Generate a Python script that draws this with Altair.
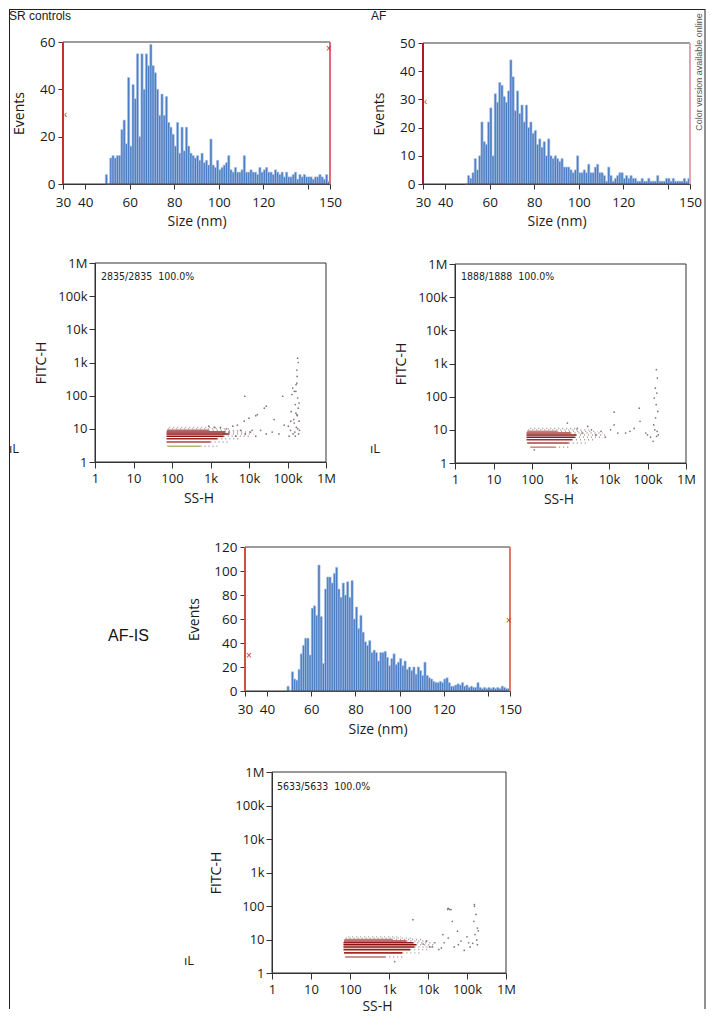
import altair as alt
import pandas as pd

# ---------------- data ----------------
BIN_START = list(range(49, 150))  # 1-nm size bins (start of bin)

H1_COUNTS = [4, 0, 11, 12, 11, 12, 12, 23, 27, 17,
             45, 16, 42, 36, 55, 20, 55, 40, 55, 50,
             59, 50, 47, 40, 29, 38, 29, 37, 26, 24,
             21, 16, 26, 13, 24, 14, 24, 16, 13, 12,
             11, 12, 10, 13, 9, 10, 8, 19, 8, 7,
             10, 6, 7, 8, 9, 12, 6, 5, 7, 5,
             5, 6, 12, 5, 5, 6, 5, 5, 4, 7,
             5, 6, 7, 5, 5, 4, 6, 5, 4, 5,
             3, 5, 3, 3, 4, 5, 2, 4, 3, 4,
             3, 3, 3, 2, 3, 3, 4, 3, 2, 4, 1]
H2_COUNTS = [0, 3, 2, 4, 9, 5, 10, 22, 15, 14,
             22, 27, 10, 32, 29, 36, 35, 31, 29, 33,
             44, 38, 26, 33, 25, 28, 22, 28, 20, 22,
             18, 19, 14, 16, 13, 15, 10, 16, 10, 9,
             10, 9, 8, 9, 6, 6, 6, 5, 4, 5,
             10, 4, 4, 5, 4, 7, 4, 4, 6, 7,
             4, 4, 3, 1, 6, 3, 1, 2, 3, 4,
             4, 2, 3, 2, 3, 2, 2, 1, 1, 2,
             1, 1, 2, 1, 1, 1, 3, 1, 1, 1,
             2, 2, 1, 2, 1, 1, 1, 1, 2, 1, 2]
H3_COUNTS = [4, 0, 16, 10, 9, 18, 31, 38, 44, 44,
             30, 69, 71, 63, 105, 62, 23, 85, 95, 95,
             90, 98, 103, 85, 78, 90, 80, 91, 78, 92,
             60, 70, 52, 63, 49, 41, 38, 42, 32, 34,
             32, 25, 32, 32, 33, 28, 21, 27, 31, 22,
             24, 27, 21, 25, 18, 20, 17, 20, 14, 20,
             17, 13, 24, 13, 11, 10, 8, 7, 7, 8,
             7, 10, 11, 7, 4, 4, 5, 6, 5, 7,
             4, 5, 3, 4, 3, 3, 7, 3, 2, 3,
             2, 3, 2, 3, 2, 3, 2, 4, 3, 2, 2]

HIST_TICKS_X = [30, 40, 60, 80, 100, 120, 140, 150]
H1_TICKS_Y = [0, 20, 40, 60]
H2_TICKS_Y = [0, 10, 20, 30, 40, 50]
H3_TICKS_Y = [0, 20, 40, 60, 80, 100, 120]
LOG_TICKS = [1, 10, 100, 1000, 10000, 100000, 1000000]

GATE_X = [30, 150]
H1_MARK_X = [30, 150]
H1_MARK_Y = [29, 57]
H1_MARK_T = ["‹", "×"]
H2_MARK_X = [30]
H2_MARK_Y = [29]
H2_MARK_T = ["‹"]
H3_MARK_X = [30, 150]
H3_MARK_Y = [29, 58]
H3_MARK_T = ["×", "×"]

# FITC-H levels of the dense band (integer channel values), SS-H extents
S1_LEVEL = [3, 4, 5, 6, 7, 8, 9, 10, 11]
S1_START = [75, 72, 72, 72, 72, 72, 74, 78, 85]
S1_DENSE_END = [550, 1000, 1500, 2200, 3000, 2400, 900, 78, 85]
S1_SPARSE_END = [1500, 3200, 6000, 10000, 13000, 12000, 7000, 3500, 1500]
S1_COLOR = ["#b9b072", "#ad4444", "#9c2424", "#8c1414", "#861010",
            "#9a2020", "#b46a6a", "#cfa5a5", "#e2caca"]

S2_LEVEL = [3, 4, 5, 6, 7, 8, 9, 10, 11]
S2_START = [90, 75, 72, 72, 72, 72, 75, 80, 90]
S2_DENSE_END = [400, 900, 1100, 1300, 1400, 1000, 450, 80, 90]
S2_SPARSE_END = [900, 2500, 4500, 6000, 8000, 7000, 5000, 3000, 1500]
S2_COLOR = ["#d48a8a", "#a84444", "#a03030", "#8c1818", "#8a1414",
            "#a83a3a", "#c48080", "#d8b0b0", "#e6cccc"]

S3_LEVEL = [3, 4, 5, 6, 7, 8, 9, 10, 11, 12]
S3_START = [75, 70, 68, 68, 68, 68, 70, 72, 78, 90]
S3_DENSE_END = [800, 2200, 3500, 4500, 5000, 4200, 2800, 1200, 78, 90]
S3_SPARSE_END = [2500, 6000, 10000, 14000, 16000, 14000, 10000, 7000, 4000, 2000]
S3_COLOR = ["#b87070", "#a02a2a", "#962020", "#8a1212", "#8a1010",
            "#951c1c", "#a83c3c", "#c47a7a", "#d6a8a8", "#e6caca"]

# sparse events (SS-H, FITC-H)
S1_PTS_SS = [7800, 75000, 25000, 16500, 10000, 7500, 5000, 45000, 82000, 122000,
             137000, 165000, 183000, 160000, 190000, 125000, 175000, 145000, 200000, 105000,
             185000, 155000, 205000, 120000, 175000, 183000, 190000, 175000, 167000, 150000,
             130000, 2200, 3000, 4500, 6000, 8000, 11000, 15000, 20000, 28000,
             40000, 60000, 15000, 28000, 1800, 2600, 3800, 12000, 900, 1300,
             140000, 160000, 195000, 110000, 170000, 150000, 180000, 165000, 200000, 178000]
S1_PTS_F = [96, 96, 42, 27, 21, 17, 13, 19, 13, 17,
            170, 135, 85, 54, 42, 33, 27, 19, 17, 12,
            10, 8, 9, 9, 240, 1350, 1000, 590, 215, 135,
            108, 7, 8, 6, 9, 7, 8, 6, 9, 7,
            8, 7, 25, 48, 11, 10, 12, 9, 12, 11,
            7, 6, 7, 6, 11, 15, 25, 30, 60, 380]

S2_PTS_SS = [170000, 180000, 160000, 175000, 150000, 168000, 185000, 162000, 145000, 178000,
             172000, 140000, 61000, 64000, 45000, 27000, 17000, 13600, 11000, 6200,
             4500, 2800, 1500, 830, 115, 100000, 13600, 190000, 155000, 120000,
             90000, 35000, 8000, 3500, 2000]
S2_PTS_F = [650, 365, 180, 128, 91, 58, 36, 23, 14, 9,
            6.4, 4.5, 45, 18, 11, 8, 8, 14, 10, 9,
            7, 12.7, 11, 16, 2.5, 7, 34, 7, 10, 6,
            8, 9, 6, 10, 8]

S3_PTS_SS = [155000, 170000, 150000, 185000, 160000, 178000, 140000, 110000, 70000, 57000,
             39000, 33000, 42000, 47000, 33000, 22000, 24000, 15000, 11000, 4100,
             7500, 1400, 19000, 85000, 185000, 195000, 155000, 32000, 36000, 120000,
             100000, 60000, 9000, 13000, 26000]
S3_PTS_F = [98, 56, 35, 22, 14, 9.7, 7.7, 8, 9, 17.7,
            78, 85, 35, 6, 11, 5.6, 14, 8, 6, 39,
            7.3, 2.2, 5, 4.7, 7, 18, 110, 79, 79, 6,
            12, 7, 9, 6, 8]

# ---------------- styling / layout ----------------
W_VIEW, H_VIEW = 690, 960
FONT = "Open Sans"
ARIAL = "Liberation Sans"
NARROW = "Liberation Sans Narrow, DejaVu Sans Condensed, Liberation Sans"
AXC = "#333333"
TXT = "#1a1a1a"
BAR = "#4a7cc4"
BAR_EDGE = "#a9c2e6"
ONE = pd.DataFrame({"k": [0]})
NB = "\u00a0"
LOG_LABEL = ("datum.value >= 1000000 ? '1M' : datum.value >= 1000 ? "
             "format(datum.value / 1000, 'd') + 'k' : format(datum.value, 'd')")


def label(text, x, y, size, font, color=TXT, align="left", angle=0):
    return alt.Chart(ONE).mark_text(
        text=text, fontSize=size, font=font, color=color, align=align,
        baseline="middle", angle=angle
    ).encode(x=alt.value(x), y=alt.value(y))


def axis_common():
    return dict(grid=False, tickColor=AXC, domainColor=AXC, labelColor=TXT,
                labelFont=FONT, labelFlush=False, labelOverlap=False,
                titleFont=FONT, titleFontSize=14, titleFontWeight="normal",
                titleColor=TXT, titleAlign="center", titleBaseline="middle")


def hist_layers(counts, ymax, yticks, xr, yr, left_col, right_col,
                mx, my, mt, ytitle_x, xtitle_y):
    xs = alt.Scale(domain=[30, 150], range=xr, nice=False, zero=False)
    ys = alt.Scale(domain=[0, ymax], range=yr, nice=False, zero=False)
    xaxis = alt.Axis(orient="bottom", offset=yr[0] - H_VIEW, values=HIST_TICKS_X,
                     labelExpr="datum.value == 140 ? '' : datum.label",
                     title="Size (nm)", tickSize=5, labelFontSize=13.5,
                     labelPadding=6, titleX=(xr[0] + xr[1]) / 2, titleY=xtitle_y,
                     **axis_common())
    yaxis = alt.Axis(orient="left", offset=-xr[0], values=yticks, format="d",
                     title="Events", tickSize=5, labelFontSize=13.5,
                     labelPadding=3, titleX=ytitle_x, titleY=(yr[0] + yr[1]) / 2,
                     titleAngle=270, **axis_common())
    df = pd.DataFrame({"start": BIN_START,
                       "end": [b + 1 for b in BIN_START],
                       "count": counts})
    bars = alt.Chart(df).mark_rect(fill=BAR, stroke=BAR_EDGE, strokeWidth=0.6).encode(
        x=alt.X("start:Q", scale=xs, axis=xaxis),
        x2="end:Q",
        y=alt.Y("count:Q", scale=ys, axis=yaxis),
        y2=alt.datum(0),
    )
    fdf = pd.DataFrame({"x0": [30], "x1": [150], "y0": [0], "y1": [ymax]})
    frame = alt.Chart(fdf).mark_rect(fillOpacity=0, stroke="#3a3a3a", strokeWidth=1).encode(
        x=alt.X("x0:Q", scale=xs, axis=None), x2="x1:Q",
        y=alt.Y("y0:Q", scale=ys, axis=None), y2="y1:Q")
    gdf = pd.DataFrame({"gx": GATE_X, "gy0": [0, 0], "gy1": [ymax, ymax],
                        "gc": [left_col, right_col]})
    gates = alt.Chart(gdf).mark_rule(strokeWidth=2).encode(
        x=alt.X("gx:Q", scale=xs, axis=None),
        y=alt.Y("gy0:Q", scale=ys, axis=None), y2="gy1:Q",
        color=alt.Color("gc:N", scale=None, legend=None))
    mdf = pd.DataFrame({"mx": mx, "my": my, "mt": mt})
    left_m = alt.Chart(mdf).transform_filter("datum.mx < 100").mark_text(
        color="#d42a2a", fontSize=10, align="left", dx=1, baseline="middle",
        font=ARIAL).encode(
        x=alt.X("mx:Q", scale=xs, axis=None),
        y=alt.Y("my:Q", scale=ys, axis=None), text="mt:N")
    right_m = alt.Chart(mdf).transform_filter("datum.mx > 100").mark_text(
        color="#d42a2a", fontSize=10, align="center", dx=-1, baseline="middle",
        font=ARIAL).encode(
        x=alt.X("mx:Q", scale=xs, axis=None),
        y=alt.Y("my:Q", scale=ys, axis=None), text="mt:N")
    return [bars, frame, gates, left_m, right_m]


def scatter_layers(lvl, start, dense_end, sparse_end, colors, pss, pf,
                   xr, yr, ytitle_x, xtitle_y):
    xs = alt.Scale(type="log", domain=[1, 1000000], range=xr, nice=False)
    ys = alt.Scale(type="log", domain=[1, 1000000], range=yr, nice=False)
    xaxis = alt.Axis(orient="bottom", offset=yr[0] - H_VIEW, values=LOG_TICKS,
                     labelExpr=LOG_LABEL, title="SS-H", tickSize=6,
                     labelFontSize=13, labelPadding=4,
                     titleX=(xr[0] + xr[1]) / 2 - 12, titleY=xtitle_y,
                     **axis_common())
    yaxis = alt.Axis(orient="left", offset=-xr[0], values=LOG_TICKS,
                     labelExpr=LOG_LABEL, title="FITC-H", tickSize=6,
                     labelFontSize=13, labelPadding=2, titleX=ytitle_x,
                     titleY=(yr[0] + yr[1]) / 2, titleAngle=270, **axis_common())
    bdf = pd.DataFrame({"f": lvl, "s0": start, "s1": dense_end,
                        "s2": sparse_end, "c": colors})
    sparse = alt.Chart(bdf).mark_rule(strokeWidth=1.4, strokeDash=[1, 3],
                                      color="#8f7a7a", opacity=0.8).encode(
        x=alt.X("s1:Q", scale=xs, axis=None), x2="s2:Q",
        y=alt.Y("f:Q", scale=ys, axis=None))
    dense = alt.Chart(bdf).mark_rule(strokeWidth=1.6).encode(
        x=alt.X("s0:Q", scale=xs, axis=xaxis), x2="s1:Q",
        y=alt.Y("f:Q", scale=ys, axis=yaxis),
        color=alt.Color("c:N", scale=None, legend=None))
    pdf = pd.DataFrame({"ss": pss, "fi": pf})
    pts = alt.Chart(pdf).mark_circle(size=3, color="#5b4848", opacity=0.75).encode(
        x=alt.X("ss:Q", scale=xs, axis=None),
        y=alt.Y("fi:Q", scale=ys, axis=None))
    fdf = pd.DataFrame({"x0": [1], "x1": [1000000], "y0": [1], "y1": [1000000]})
    frame = alt.Chart(fdf).mark_rect(fillOpacity=0, stroke="#333333", strokeWidth=1).encode(
        x=alt.X("x0:Q", scale=xs, axis=None), x2="x1:Q",
        y=alt.Y("y0:Q", scale=ys, axis=None), y2="y1:Q")
    return [sparse, dense, pts, frame]


layers = []
# histograms (chart coordinates = page coordinates - 8)
layers += hist_layers(H1_COUNTS, 60, H1_TICKS_Y, [54, 321], [175, 33],
                      "#c8302c", "#e06a7e", H1_MARK_X, H1_MARK_Y, H1_MARK_T, -44, 37)
layers += hist_layers(H2_COUNTS, 50, H2_TICKS_Y, [414, 681], [175, 34],
                      "#b01c1c", "#e8a2b6", H2_MARK_X, H2_MARK_Y, H2_MARK_T, -44, 37)
layers += hist_layers(H3_COUNTS, 120, H3_TICKS_Y, [236, 501], [682, 538],
                      "#d0503e", "#e07a6e", H3_MARK_X, H3_MARK_Y, H3_MARK_T, -51, 38)
# scatter plots
layers += scatter_layers(S1_LEVEL, S1_START, S1_DENSE_END, S1_SPARSE_END, S1_COLOR,
                         S1_PTS_SS, S1_PTS_F, [86, 317], [453, 254], -54, 36)
layers += scatter_layers(S2_LEVEL, S2_START, S2_DENSE_END, S2_SPARSE_END, S2_COLOR,
                         S2_PTS_SS, S2_PTS_F, [446, 677], [454, 255], -54, 36)
layers += scatter_layers(S3_LEVEL, S3_START, S3_DENSE_END, S3_SPARSE_END, S3_COLOR,
                         S3_PTS_SS, S3_PTS_F, [263, 497], [964, 763], -56, 33)

# texts
layers += [
    label("SR controls", 0, 7, 12, ARIAL),
    label("AF", 362, 7, 12, ARIAL),
    label("Color version available online", 689.5, 63, 9, ARIAL,
          color="#555555", align="center", angle=270),
    label(f"2835/2835{NB}{NB}100.0%", 92, 268, 10.5, NARROW, color="#222222"),
    label(f"1888/1888{NB}{NB}100.0%", 452, 268, 10.5, NARROW, color="#222222"),
    label(f"5633/5633{NB}{NB}100.0%", 268, 778, 10.5, NARROW, color="#222222"),
    label("ıL", 0, 440, 13, FONT),
    label("ıL", 361, 440, 13, FONT),
    label("ıL", 175, 952, 13, FONT),
    label("AF-IS", 99, 627, 16, ARIAL, color="#111111"),
]

# outer figure frame (left, top, right edges)
layers += [
    alt.Chart(ONE).mark_rule(color="#222222", strokeWidth=1).encode(
        x=alt.value(0.5), y=alt.value(0), y2=alt.value(1000)),
    alt.Chart(ONE).mark_rule(color="#222222", strokeWidth=1).encode(
        x=alt.value(0), x2=alt.value(696), y=alt.value(0.5)),
    alt.Chart(ONE).mark_rule(color="#222222", strokeWidth=1).encode(
        x=alt.value(696), y=alt.value(0), y2=alt.value(1000)),
]

chart = alt.layer(*layers).resolve_scale(
    x="independent", y="independent"
).resolve_axis(
    x="independent", y="independent"
).properties(
    width=W_VIEW, height=H_VIEW, padding=0, background="white"
).configure_view(stroke="transparent")

chart.save("out.html", embed_options={"renderer": "svg", "actions": False})
